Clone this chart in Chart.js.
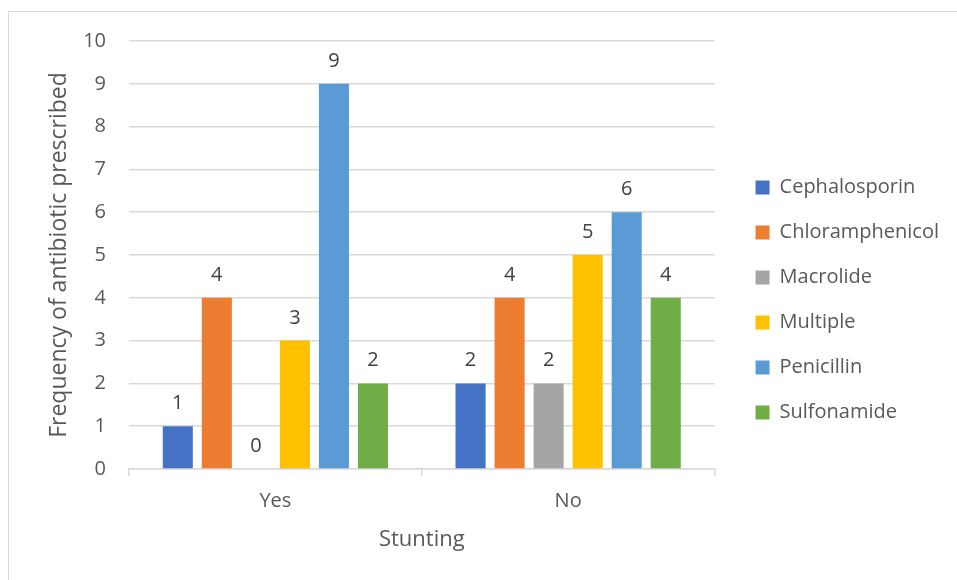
<html>
<head>
    <title>Antibiotics by stunting</title>
    <script src="https://cdn.jsdelivr.net/npm/chart.js"></script>
    <style>
        body { margin: 0; background: #fff; overflow: hidden; }
        #frame { position: absolute; left: 8px; top: 11px; width: 1200px; height: 800px; border: 1px solid #d9d9d9; }
        #antibioticChart { position: absolute; left: 0; top: 0; }
    </style>
</head>
<body>
    <div id="frame"></div>
    <canvas id="antibioticChart" width="957" height="580"></canvas>

    <script>
        // categories on the x axis (stunting yes / no)
        const stuntingGroups = ['Yes', 'No'];

        // one array per antibiotic, values in the same order as stuntingGroups
        const cephalosporin = [1, 2];
        const chloramphenicol = [4, 4];
        const macrolide = [0, 2];
        const multiple = [3, 5];
        const penicillin = [9, 6];
        const sulfonamide = [2, 4];

        const yTicks = [0, 1, 2, 3, 4, 5, 6, 7, 8, 9, 10];

        const textColor = '#595959';
        const gridColor = '#d9d9d9';
        const fontFamily = "'Open Sans', sans-serif";
        const legendShift = 16; // space between plot and legend
        const legendMiddle = 300;

        // writes the value above each bar, 0 included
        const valueLabels = {
            id: 'valueLabels',
            afterDatasetsDraw(chart) {
                const ctx = chart.ctx;
                ctx.save();
                ctx.font = '20px ' + fontFamily;
                ctx.fillStyle = '#404040';
                ctx.textAlign = 'center';
                ctx.textBaseline = 'alphabetic';
                chart.data.datasets.forEach((ds, i) => {
                    chart.getDatasetMeta(i).data.forEach((bar, j) => {
                        ctx.fillText(ds.data[j], bar.x, bar.y - 17);
                    });
                });
                ctx.restore();
            }
        };

        // pushes the legend a bit to the right of the plot and centres it
        const moveLegend = {
            id: 'moveLegend',
            afterLayout(chart) {
                const lg = chart.legend;
                const dy = legendMiddle - (lg.top + lg.bottom) / 2;
                lg.left += legendShift;
                lg.right += legendShift;
                lg.top += dy;
                lg.bottom += dy;
            }
        };

        const ctx = document.getElementById('antibioticChart').getContext('2d');
        new Chart(ctx, {
            type: 'bar',
            data: {
                labels: stuntingGroups,
                datasets: [
                    { label: 'Cephalosporin', data: cephalosporin, backgroundColor: '#4472C4' },
                    { label: 'Chloramphenicol', data: chloramphenicol, backgroundColor: '#ED7D31' },
                    { label: 'Macrolide', data: macrolide, backgroundColor: '#A5A5A5' },
                    { label: 'Multiple', data: multiple, backgroundColor: '#FFC000' },
                    { label: 'Penicillin', data: penicillin, backgroundColor: '#5B9BD5' },
                    { label: 'Sulfonamide', data: sulfonamide, backgroundColor: '#70AD47' }
                ]
            },
            options: {
                responsive: false,
                animation: false,
                categoryPercentage: 0.8,
                barPercentage: 0.77,
                layout: { padding: { left: 9, top: 41, right: 24, bottom: 0 } },
                plugins: {
                    tooltip: { enabled: false },
                    legend: {
                        position: 'right',
                        labels: {
                            boxWidth: 14,
                            boxHeight: 14,
                            padding: 25,
                            color: textColor,
                            font: { family: fontFamily, size: 20 }
                        }
                    }
                },
                scales: {
                    x: {
                        grid: { offset: true, drawOnChartArea: false, drawTicks: true, tickLength: 7, color: gridColor, lineWidth: 1.5 },
                        border: { color: gridColor, width: 1.5 },
                        ticks: { color: textColor, font: { family: fontFamily, size: 20 }, padding: 13 },
                        title: { display: true, text: 'Stunting', color: textColor, font: { family: fontFamily, size: 22 }, padding: { top: 4, bottom: 27 } },
                        afterFit(scale) { scale.height = 111; }
                    },
                    y: {
                        min: 0,
                        max: 10,
                        afterBuildTicks(scale) { scale.ticks = yTicks.map(v => ({ value: v })); },
                        grid: { drawTicks: false, color: gridColor, lineWidth: 1.5 },
                        border: { display: false },
                        ticks: { color: textColor, font: { family: fontFamily, size: 20 }, padding: 23 },
                        title: { display: true, text: 'Frequency of antibiotic prescribed', color: textColor, font: { family: fontFamily, size: 23 }, padding: { top: 37, bottom: 0 } },
                        afterFit(scale) { scale.width = 120; }
                    }
                }
            },
            plugins: [valueLabels, moveLegend]
        });
    </script>
</body>
</html>
